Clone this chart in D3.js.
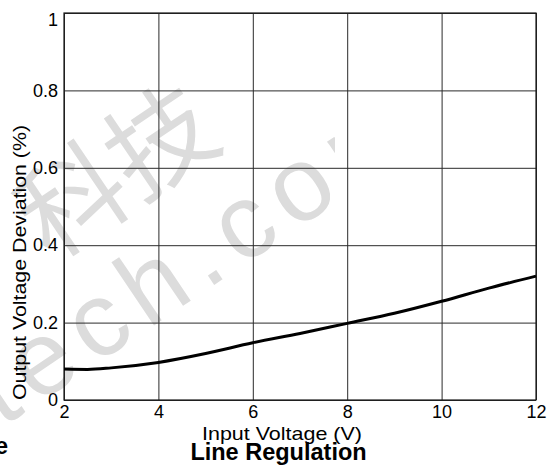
<!DOCTYPE html>
<html>
<head>
<meta charset="utf-8">
<script src="https://cdn.jsdelivr.net/npm/d3@7"></script>
<style>
  body { margin: 0; background: #fff; }
  text { font-family: "Liberation Sans", Arial, sans-serif; }
</style>
</head>
<body>
<div id="chart"></div>
<script>
var w = 556;
var h = 468;
var margin = {top: 13, right: 20, bottom: 68, left: 64};
var pw = w - margin.left - margin.right;
var ph = h - margin.top - margin.bottom;

// curve
var inputV = [2, 2.5, 3, 4, 5, 6, 7, 8, 9, 10, 11, 12];
var deviation = [0.080, 0.079, 0.083, 0.097, 0.120, 0.148, 0.172, 0.198, 0.224, 0.255, 0.289, 0.320];

var xTicks = [2, 4, 6, 8, 10, 12];
var yTicks = [0, 0.2, 0.4, 0.6, 0.8, 1];
var yTickLabels = ["0", "0.2", "0.4", "0.6", "0.8", "1"];

var xTitle = "Input Voltage (V)";
var yTitle = "Output Voltage Deviation (%)";
var chartTitle = "Line Regulation";

var svg = d3.select("#chart")
	.append("svg")
	.attr("width", w)
	.attr("height", h)
	.style("background", "#FFFFFF");

var xscale = d3.scaleLinear().domain([2, 12]).range([0, pw]);
var yscale = d3.scaleLinear().domain([0, 1]).range([ph, 0]);

// watermark, light gray behind the grid (it fades out past x~335)
svg.append("clipPath").attr("id", "wmclip")
	.append("rect").attr("width", 335).attr("height", h);

var wm = svg.append("g")
	.attr("fill", "#dcdcdc")
	.attr("clip-path", "url(#wmclip)");
wm.append("text")
	.attr("transform", "translate(50,262) rotate(-34)")
	.style("font-family", "'Noto Sans CJK SC', sans-serif")
	.style("font-size", "106px")
	.text("科技");
wm.append("text")
	.attr("transform", "translate(2,428) rotate(-34)")
	.style("font-size", "105px")
	.style("letter-spacing", "12px")
	.text("tech.com");

var g = svg.append("g")
	.attr("transform", "translate(" + margin.left + "," + margin.top + ")");

var xAxis = d3.axisBottom(xscale)
	.tickValues(xTicks)
	.tickSize(-ph)
	.tickSizeOuter(0)
	.tickPadding(5)
	.tickFormat(d3.format("d"));

var yAxis = d3.axisLeft(yscale)
	.tickValues(yTicks)
	.tickSize(-pw)
	.tickSizeOuter(0)
	.tickPadding(6)
	.tickFormat(function(d, i){ return yTickLabels[i]; });

var gx = g.append("g")
	.attr("transform", "translate(0," + ph + ")")
	.call(xAxis);
var gy = g.append("g").call(yAxis);

[gx, gy].forEach(function(a){
	a.select(".domain").remove();
	a.selectAll("line").attr("stroke", "#2a2a2a").attr("stroke-width", 1);
	a.selectAll("text")
		.attr("fill", "#000")
		.style("font-size", "18px")
		.style("font-family", "'Liberation Sans', Arial, sans-serif");
});
// top label sits a bit below the last gridline
gy.selectAll("text").filter(function(d){ return d === 1; }).attr("dy", "0.72em");

g.append("rect")
	.attr("width", pw)
	.attr("height", ph)
	.attr("fill", "none")
	.attr("stroke", "#1a1a1a")
	.attr("stroke-width", 1.2);

var line = d3.line()
	.x(function(d){ return xscale(d[0]); })
	.y(function(d){ return yscale(d[1]); })
	.curve(d3.curveMonotoneX);

g.append("path")
	.datum(inputV.map(function(v, i){ return [v, deviation[i]]; }))
	.attr("d", line)
	.attr("fill", "none")
	.attr("stroke", "#000")
	.attr("stroke-width", 3);

svg.append("text")
	.attr("x", 282)
	.attr("y", 439.5)
	.attr("text-anchor", "middle")
	.attr("textLength", 160)
	.attr("lengthAdjust", "spacingAndGlyphs")
	.style("font-size", "19px")
	.text(xTitle);

svg.append("text")
	.attr("transform", "translate(26,262.5) rotate(-90)")
	.attr("text-anchor", "middle")
	.attr("textLength", 275)
	.attr("lengthAdjust", "spacingAndGlyphs")
	.style("font-size", "19px")
	.text(yTitle);

svg.append("text")
	.attr("x", 278.5)
	.attr("y", 459.5)
	.attr("text-anchor", "middle")
	.style("font-size", "23.5px")
	.style("font-weight", "bold")
	.text(chartTitle);

// tail of the neighbouring figure's caption
svg.append("text")
	.attr("x", 8)
	.attr("y", 454)
	.attr("text-anchor", "end")
	.style("font-size", "23.5px")
	.style("font-weight", "bold")
	.text("e");
</script>
</body>
</html>
